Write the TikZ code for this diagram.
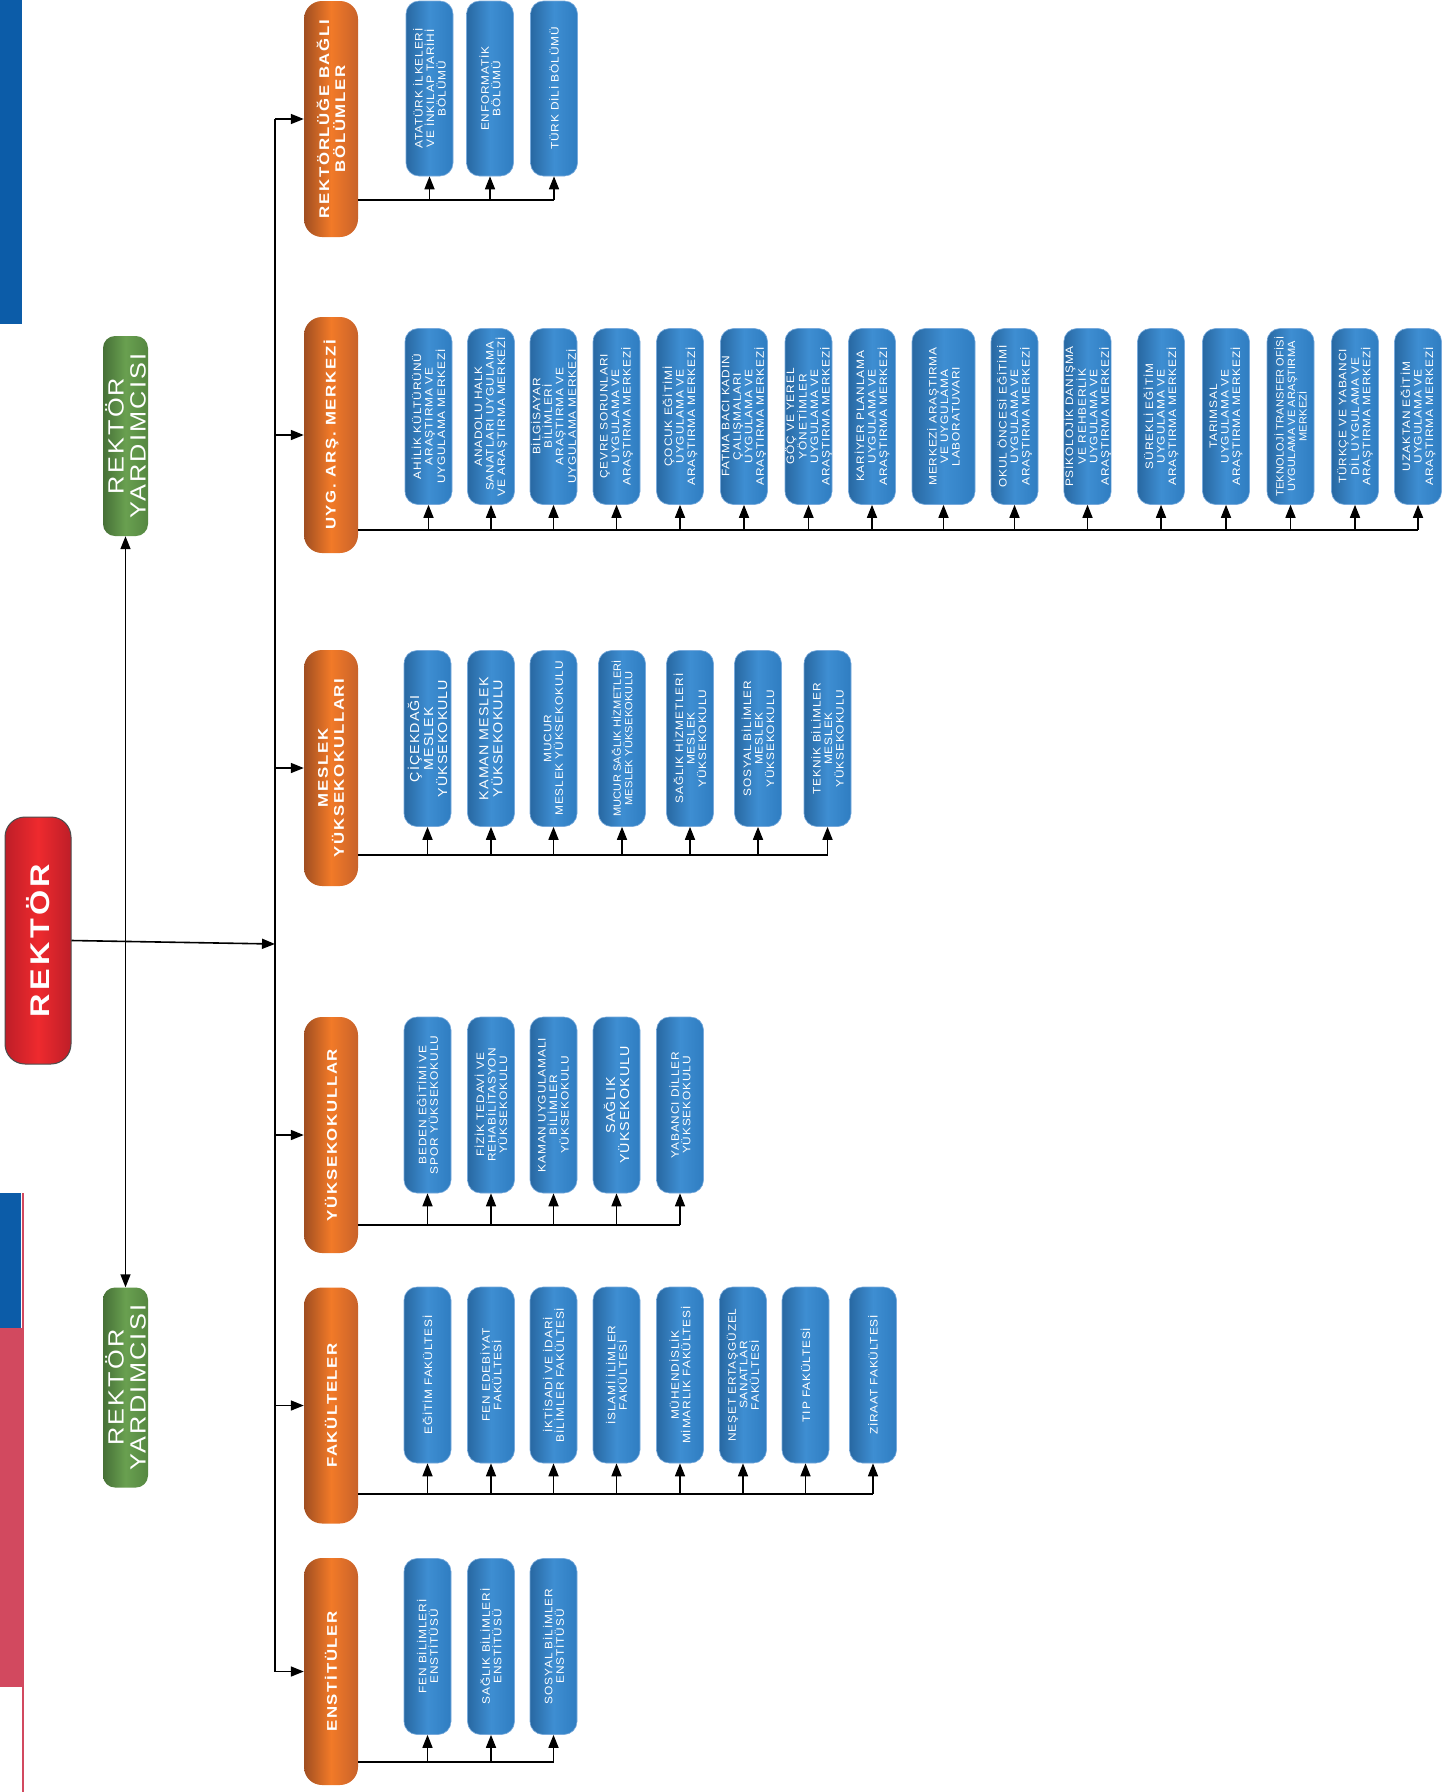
\documentclass[tikz,border=0pt]{standalone}
\usepackage{fontspec}
\setmainfont{Liberation Sans}
\newfontfamily\bfnt[FakeStretch=1.1,LetterSpace=8]{Liberation Sans}
\newfontfamily\bfntn[FakeStretch=1.05,LetterSpace=2]{Liberation Sans}
\newfontfamily\ofnt[FakeStretch=1.2,LetterSpace=12]{Liberation Sans}
\newfontfamily\gfnt[FakeStretch=1.15,LetterSpace=10]{Liberation Sans}
\newfontfamily\rfnt[FakeStretch=1.2,LetterSpace=12]{Liberation Sans}
\usetikzlibrary{arrows.meta}
\definecolor{bluebar}{RGB}{12,92,168}
\definecolor{pinkbar}{RGB}{210,73,95}
\definecolor{bxtop}{RGB}{47,125,193}
\definecolor{bxmid}{RGB}{62,142,210}
\definecolor{bxbot}{RGB}{40,104,162}
\definecolor{bxedge}{RGB}{120,170,220}
\definecolor{ortop}{RGB}{200,98,42}
\definecolor{ormid}{RGB}{242,122,40}
\definecolor{orbot}{RGB}{160,78,33}
\definecolor{grtop}{RGB}{85,135,65}
\definecolor{grmid}{RGB}{105,160,80}
\definecolor{grbot}{RGB}{70,112,55}
\definecolor{rdark}{RGB}{190,30,40}
\definecolor{rbright}{RGB}{238,42,46}
\tikzset{
  bluebox/.style={rotate=90, rounded corners=13pt, minimum width=176pt, minimum height=47pt,
    inner sep=0pt, left color=bxbot, right color=bxtop, middle color=bxmid,
    draw=bxedge, line width=0.6pt, text=white, align=center,
    font=\bfnt\fontsize{10.8}{11.5}\selectfont},
  bigtxt/.style={font=\bfnt\fontsize{13}{14}\selectfont},
  tighttxt/.style={font=\bfntn\fontsize{10.5}{11.5}\selectfont},
  orangebox/.style={rotate=90, rounded corners=18pt, minimum width=236pt, minimum height=54pt,
    inner sep=0pt, left color=orbot, right color=ortop, middle color=ormid,
    text=white, align=center, font=\ofnt\bfseries\fontsize{14}{16}\selectfont},
  greenbox/.style={rotate=90, rounded corners=12pt, minimum width=200pt, minimum height=45pt,
    inner sep=0pt, left color=grbot, right color=grtop, middle color=grmid,
    text=white, align=center, font=\gfnt\fontsize{22}{22}\selectfont},
  rektorbox/.style={rotate=90, rounded corners=20pt, minimum width=247pt, minimum height=66pt,
    inner sep=0pt, left color=rdark, right color=rdark, middle color=rbright,
    draw=black!70, line width=1pt, text=white, font=\rfnt\bfseries\fontsize{27}{27}\selectfont},
  conn/.style={line width=1.6pt, black},
  arr/.style={conn, -{Triangle[length=13pt,width=10pt]}}
}
\begin{document}
\begin{tikzpicture}[x=1pt,y=-1pt]
\useasboundingbox (0,0) rectangle (1448,1792);
\fill[white] (0,0) rectangle (1448,1792);
% left stripes
\fill[bluebar] (0,0) rectangle (22,324);
\fill[bluebar] (0,1193) rectangle (21,1328);
\fill[pinkbar] (0,1328) rectangle (22,1687);
\draw[pinkbar, line width=2pt] (23,1193) -- (23,1792);

% rector and vice rectors
\node[rektorbox] (rek) at (38,940.5) {REKTÖR};
\node[greenbox] (v1) at (125.5,436) {REKTÖR\\YARDIMCISI};
\node[greenbox] (v2) at (125.5,1387.5) {REKTÖR\\YARDIMCISI};

% orange group boxes
\node[orangebox] (o1) at (331,119) {REKTÖRLÜĞE BAĞLI\\BÖLÜMLER};
\node[orangebox] (o2) at (331,435) {UYG. ARŞ. MERKEZİ};
\node[orangebox] (o3) at (331,768) {MESLEK\\YÜKSEKOKULLARI};
\node[orangebox] (o4) at (331,1135) {YÜKSEKOKULLAR};
\node[orangebox] (o5) at (331,1405.5) {FAKÜLTELER};
\node[orangebox, minimum width=227pt] (o6) at (331,1671.5) {ENSTİTÜLER};

% rektorluge bagli
\node[bluebox, minimum width=175pt] (a1) at (429.5,88.5) {ATATÜRK İLKELERİ\\VE İNKILAP TARİHİ\\BÖLÜMÜ};
\node[bluebox, minimum width=175pt] (a2) at (490,88.5) {ENFORMATİK\\BÖLÜMÜ};
\node[bluebox, minimum width=175pt] (a3) at (554,88.5) {TÜRK DİLİ BÖLÜMÜ};

% uyg ars merkezi
\node[bluebox] (u1) at (428.5,416.5) {AHİLİK KÜLTÜRÜNÜ\\ARAŞTIRMA VE\\UYGULAMA MERKEZİ};
\node[bluebox] (u2) at (491,416.5) {ANADOLU HALK\\SANATLARI UYGULAMA\\VE ARAŞTIRMA MERKEZİ};
\node[bluebox] (u3) at (553.5,416.5) {BİLGİSAYAR\\BİLİMLERİ\\ARAŞTIRMA VE\\UYGULAMA MERKEZİ};
\node[bluebox] (u4) at (616.5,416.5) {ÇEVRE SORUNLARI\\UYGULAMA VE\\ARAŞTIRMA MERKEZİ};
\node[bluebox] (u5) at (680,416.5) {ÇOCUK EĞİTİMİ\\UYGULAMA VE\\ARAŞTIRMA MERKEZİ};
\node[bluebox] (u6) at (744,416.5) {FATMA BACI KADIN\\ÇALIŞMALARI\\UYGULAMA VE\\ARAŞTIRMA MERKEZİ};
\node[bluebox] (u7) at (808.5,416.5) {GÖÇ VE YEREL\\YÖNETİMLER\\UYGULAMA VE\\ARAŞTIRMA MERKEZİ};
\node[bluebox] (u8) at (872,416.5) {KARİYER PLANLAMA\\UYGULAMA VE\\ARAŞTIRMA MERKEZİ};
\node[bluebox, minimum height=63pt] (u9) at (943.5,416.5) {MERKEZİ ARAŞTIRMA\\VE UYGULAMA\\LABORATUVARI};
\node[bluebox] (u10) at (1014.5,416.5) {OKUL ÖNCESİ EĞİTİMİ\\UYGULAMA VE\\ARAŞTIRMA MERKEZİ};
\node[bluebox] (u11) at (1087.5,416.5) {PSİKOLOJİK DANIŞMA\\VE REHBERLİK\\UYGULAMA VE\\ARAŞTIRMA MERKEZİ};
\node[bluebox] (u12) at (1161,416.5) {SÜREKLİ EĞİTİM\\UYGULAMA VE\\ARAŞTIRMA MERKEZİ};
\node[bluebox] (u13) at (1226,416.5) {TARIMSAL\\UYGULAMA VE\\ARAŞTIRMA MERKEZİ};
\node[bluebox, tighttxt] (u14) at (1290.5,416.5) {TEKNOLOJİ TRANSFER OFİSİ\\UYGULAMA VE ARAŞTIRMA\\MERKEZİ};
\node[bluebox] (u15) at (1355,416.5) {TÜRKÇE VE YABANCI\\DİL UYGULAMA VE\\ARAŞTIRMA MERKEZİ};
\node[bluebox] (u16) at (1418,416.5) {UZAKTAN EĞİTİM\\UYGULAMA VE\\ARAŞTIRMA MERKEZİ};

% meslek yuksekokullari
\node[bluebox, bigtxt] (m1) at (427.5,738.5) {ÇİÇEKDAĞI\\MESLEK\\YÜKSEKOKULU};
\node[bluebox, bigtxt] (m2) at (491,738.5) {KAMAN MESLEK\\YÜKSEKOKULU};
\node[bluebox] (m3) at (553.5,738.5) {MUCUR\\MESLEK YÜKSEKOKULU};
\node[bluebox, tighttxt] (m4) at (622,738.5) {MUCUR SAĞLIK HİZMETLERİ\\MESLEK YÜKSEKOKULU};
\node[bluebox] (m5) at (690,738.5) {SAĞLIK HİZMETLERİ\\MESLEK\\YÜKSEKOKULU};
\node[bluebox] (m6) at (758,738.5) {SOSYAL BİLİMLER\\MESLEK\\YÜKSEKOKULU};
\node[bluebox] (m7) at (827.5,738.5) {TEKNİK BİLİMLER\\MESLEK\\YÜKSEKOKULU};

% yuksekokullar
\node[bluebox] (y1) at (427.5,1105) {BEDEN EĞİTİMİ VE\\SPOR YÜKSEKOKULU};
\node[bluebox] (y2) at (491,1105) {FİZİK TEDAVİ VE\\REHABİLİTASYON\\YÜKSEKOKULU};
\node[bluebox] (y3) at (553.5,1105) {KAMAN UYGULAMALI\\BİLİMLER\\YÜKSEKOKULU};
\node[bluebox, bigtxt] (y4) at (616.5,1105) {SAĞLIK\\YÜKSEKOKULU};
\node[bluebox] (y5) at (680,1105) {YABANCI DİLLER\\YÜKSEKOKULU};

% fakulteler
\node[bluebox] (f1) at (427.5,1375) {EĞİTİM FAKÜLTESİ};
\node[bluebox] (f2) at (491,1375) {FEN EDEBİYAT\\FAKÜLTESİ};
\node[bluebox] (f3) at (553.5,1375) {İKTİSADİ VE İDARİ\\BİLİMLER FAKÜLTESİ};
\node[bluebox] (f4) at (616.5,1375) {İSLAMİ İLİMLER\\FAKÜLTESİ};
\node[bluebox] (f5) at (680,1375) {MÜHENDİSLİK\\MİMARLIK FAKÜLTESİ};
\node[bluebox] (f6) at (743,1375) {NEŞET ERTAŞGÜZEL\\SANATLAR\\FAKÜLTESİ};
\node[bluebox] (f7) at (805.5,1375) {TIP FAKÜLTESİ};
\node[bluebox] (f8) at (873,1375) {ZİRAAT FAKÜLTESİ};

% enstituler
\node[bluebox] (e1) at (427.5,1646.5) {FEN BİLİMLERİ\\ENSTİTÜSÜ};
\node[bluebox] (e2) at (491,1646.5) {SAĞLIK BİLİMLERİ\\ENSTİTÜSÜ};
\node[bluebox] (e3) at (553.5,1646.5) {SOSYAL BİLİMLER\\ENSTİTÜSÜ};

% main connectors
\coordinate (trunk) at (275,0);
\coordinate (rekend) at (275,944);
\coordinate (jn) at (125.5,942);
\draw[conn] (trunk |- o1.north) -- (trunk |- o6.north);
\foreach \n in {o1,o2,o3,o4,o5,o6} \draw[arr] (trunk |- \n.north) -- (\n.north);
\draw[arr] (rek.south) -- (rekend);
\draw[arr] (jn) -- (v1.west);
\draw[arr] (jn) -- (v2.east);

% sub buses
\coordinate (busA) at (0,200);
\coordinate (busU) at (0,530);
\coordinate (busM) at (0,855);
\coordinate (busY) at (0,1225);
\coordinate (busF) at (0,1494);
\coordinate (busE) at (0,1762);
\draw[conn] (o1.south |- busA) -- (a3.west |- busA);
\foreach \n in {a1,a2,a3} \draw[arr] (\n.west |- busA) -- (\n.west);
\draw[conn] (o2.south |- busU) -- (u16.west |- busU);
\foreach \n in {u1,u2,u3,u4,u5,u6,u7,u8,u9,u10,u11,u12,u13,u14,u15,u16} \draw[arr] (\n.west |- busU) -- (\n.west);
\draw[conn] (o3.south |- busM) -- (m7.west |- busM);
\foreach \n in {m1,m2,m3,m4,m5,m6,m7} \draw[arr] (\n.west |- busM) -- (\n.west);
\draw[conn] (o4.south |- busY) -- (y5.west |- busY);
\foreach \n in {y1,y2,y3,y4,y5} \draw[arr] (\n.west |- busY) -- (\n.west);
\draw[conn] (o5.south |- busF) -- (f8.west |- busF);
\foreach \n in {f1,f2,f3,f4,f5,f6,f7,f8} \draw[arr] (\n.west |- busF) -- (\n.west);
\draw[conn] (o6.south |- busE) -- (e3.west |- busE);
\foreach \n in {e1,e2,e3} \draw[arr] (\n.west |- busE) -- (\n.west);
\end{tikzpicture}
\end{document}
